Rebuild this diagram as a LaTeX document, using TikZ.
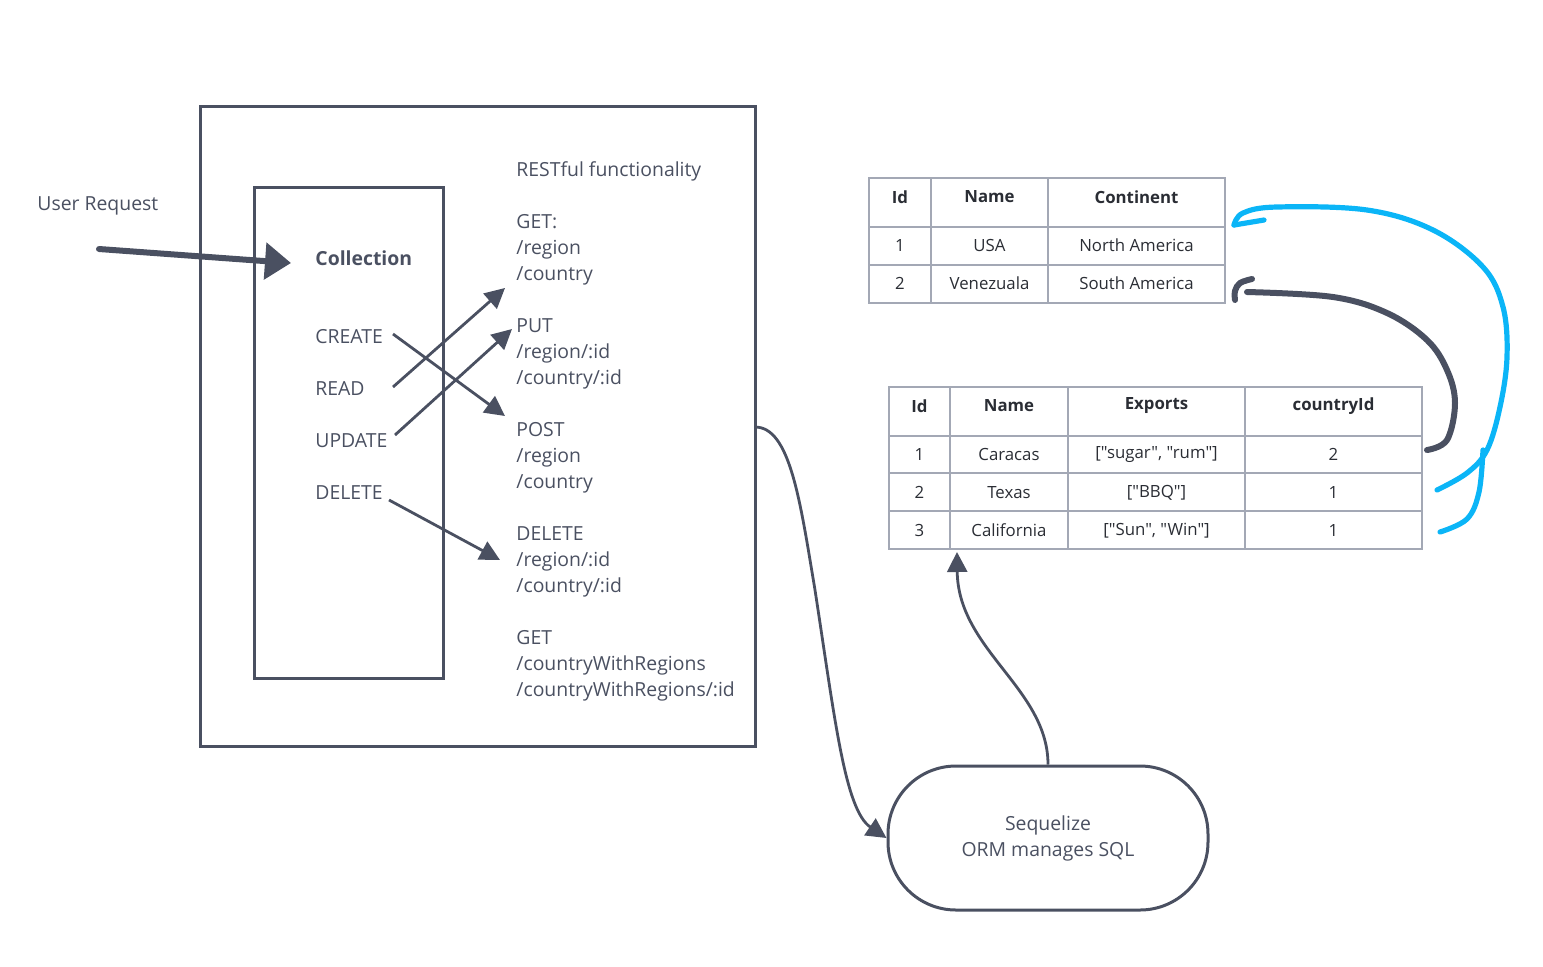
\documentclass[tikz,border=0pt]{standalone}
\usepackage{fontspec}
\setmainfont{Open Sans}[Ligatures=TeXOff]
\usetikzlibrary{arrows.meta}
\definecolor{ink}{HTML}{4A5061}
\definecolor{tline}{HTML}{A3A8B5}
\definecolor{tink}{HTML}{2A2D34}
\definecolor{sky}{HTML}{0BB5F7}
\begin{document}
\begin{tikzpicture}[x=0.5pt,y=-0.5pt,
  txt/.style={anchor=base west,inner sep=0pt,text=ink,font=\fontsize{9.7}{11}\selectfont},
  cell/.style={inner sep=0pt,text=tink,font=\fontsize{8.4}{10}\selectfont},
  hcell/.style={cell,font=\fontsize{8.4}{10}\selectfont\bfseries},
  boxline/.style={draw=ink,line width=1.5pt},
  conn/.style={draw=ink,line width=1.4pt,-{Triangle[length=10pt,width=10pt]}},
  tab/.style={draw=tline,line width=0.7pt},
  hand/.style={line width=3pt,line cap=round,line join=round},
]
\useasboundingbox (0,0) rectangle (1543,966);
% boxes
\draw[boxline] (200,106) rectangle (755,746);
\node[boxline,minimum width=94.5pt,minimum height=245.5pt,inner sep=0pt] (coll) at (348.5,432.5) {};
\coordinate (outerR) at (755,427);

% left texts
\node[txt] (user) at (37,210) {User Request};
\node[txt,font=\fontsize{9.7}{11}\selectfont\bfseries] (collection) at (315,265) {Collection};
\node[txt] (create) at (315,343) {CREATE};
\node[txt] (read) at (315,395) {READ};
\node[txt] (update) at (315,447) {UPDATE};
\node[txt] (delete) at (315,499) {DELETE};

% right texts
\node[txt] (rest) at (516,176) {RESTful functionality};
\node[txt] (get1) at (516,228) {GET:};
\node[txt] (get1a) at (516,254) {/region};
\node[txt] (get1b) at (516,280) {/country};
\node[txt] (put) at (516,332) {PUT};
\node[txt] (puta) at (516,358) {/region/:id};
\node[txt] (putb) at (516,384) {/country/:id};
\node[txt] (post) at (516,436) {POST};
\node[txt] (posta) at (516,462) {/region};
\node[txt] (postb) at (516,488) {/country};
\node[txt] (del) at (516,540) {DELETE};
\node[txt] (dela) at (516,566) {/region/:id};
\node[txt] (delb) at (516,592) {/country/:id};
\node[txt] (get2) at (516,644) {GET};
\node[txt] (get2a) at (516,670) {/countryWithRegions};
\node[txt] (get2b) at (516,696) {/countryWithRegions/:id};

% user request arrow
\coordinate (uStart) at (99,249);
\coordinate (uEnd) at (291,263);
\draw[ink,line width=3pt,line cap=round,-{Triangle[length=13pt,width=18pt]}] (uStart) -- (uEnd);

% CRUD arrows
\coordinate (cS) at (393,334); \coordinate (cE) at (505,416);
\coordinate (rS) at (393,387); \coordinate (rE) at (505,288);
\coordinate (uS) at (395,435); \coordinate (uE) at (512,329);
\coordinate (dS) at (389,500); \coordinate (dE) at (500,560);
\draw[conn] (cS) -- (cE);
\draw[conn] (rS) -- (rE);
\draw[conn] (uS) -- (uE);
\draw[conn] (dS) -- (dE);

% table 1
\draw[tab] (869,178) rectangle (1225,303);
\draw[tab] (869,227) -- (1225,227);
\draw[tab] (869,265) -- (1225,265);
\draw[tab] (931,178) -- (931,303);
\draw[tab] (1048,178) -- (1048,303);
\node[hcell] (t1h1) at (900,197) {Id};
\node[hcell] (t1h2) at (989.5,197) {Name};
\node[hcell] (t1h3) at (1136.5,197) {Continent};
\node[cell] (t1a1) at (900,245.5) {1};
\node[cell] (t1a2) at (989.5,245.5) {USA};
\node[cell] (t1a3) at (1136.5,245.5) {North America};
\node[cell] (t1b1) at (900,283.5) {2};
\node[cell] (t1b2) at (989.5,283.5) {Venezuala};
\node[cell] (t1b3) at (1136.5,283.5) {South America};

% table 2
\draw[tab] (889,387) rectangle (1422,549);
\draw[tab] (889,436) -- (1422,436);
\draw[tab] (889,473) -- (1422,473);
\draw[tab] (889,511) -- (1422,511);
\draw[tab] (950,387) -- (950,549);
\draw[tab] (1068,387) -- (1068,549);
\draw[tab] (1245,387) -- (1245,549);
\node[hcell] (t2h1) at (919.5,406) {Id};
\node[hcell] (t2h2) at (1009,406) {Name};
\node[hcell] (t2h3) at (1156.5,406) {Exports};
\node[hcell] (t2h4) at (1333.5,406) {countryId};
\node[cell] (t2a1) at (919.5,454.5) {1};
\node[cell] (t2a2) at (1009,454.5) {Caracas};
\node[cell] (t2a3) at (1156.5,454.5) {["sugar", "rum"]};
\node[cell] (t2a4) at (1333.5,454.5) {2};
\node[cell] (t2b1) at (919.5,492.5) {2};
\node[cell] (t2b2) at (1009,492.5) {Texas};
\node[cell] (t2b3) at (1156.5,492.5) {["BBQ"]};
\node[cell] (t2b4) at (1333.5,492.5) {1};
\node[cell] (t2c1) at (919.5,530.5) {3};
\node[cell] (t2c2) at (1009,530.5) {California};
\node[cell] (t2c3) at (1156.5,530.5) {["Sun", "Win"]};
\node[cell] (t2c4) at (1333.5,530.5) {1};

% Sequelize
\node[draw=ink,line width=1.5pt,rounded corners=34pt,minimum width=160pt,minimum height=72pt,
  align=center,text=ink,font=\fontsize{9.7}{13}\selectfont] (seq) at (1048,838) {Sequelize\\ORM manages SQL};
\coordinate (t2tip) at (957,552);
\draw[conn] (outerR) .. controls (790,427) and (800,500) .. (815,590) .. controls (835,720) and (845,810) .. (seq.west);
\draw[conn] (seq.north) .. controls +(0,-76) and (958,650) .. (t2tip);

% hand drawn dark
\draw[ink,hand] plot[smooth,tension=0.6] coordinates {(1427,450) (1447,440) (1455,403) (1447,370) (1427,340) (1387,313) (1333,297) (1247,292)};
\draw[ink,hand] plot[smooth,tension=0.6] coordinates {(1252,279) (1240,283) (1235,291) (1235,300)};

% hand drawn blue
\draw[sky,hand,line width=2.6pt] plot[smooth,tension=0.6] coordinates {(1437,490) (1467,473) (1487,450) (1500,407) (1507,357) (1503,307) (1483,267) (1433,230) (1367,210) (1277,207) (1243,213) (1234,225)};
\draw[sky,hand,line width=2.6pt] (1234,225) -- (1264,220);
\draw[sky,hand,line width=2.6pt] plot[smooth,tension=0.6] coordinates {(1440,532) (1467,519) (1479,492) (1483,450)};
\end{tikzpicture}
\end{document}
